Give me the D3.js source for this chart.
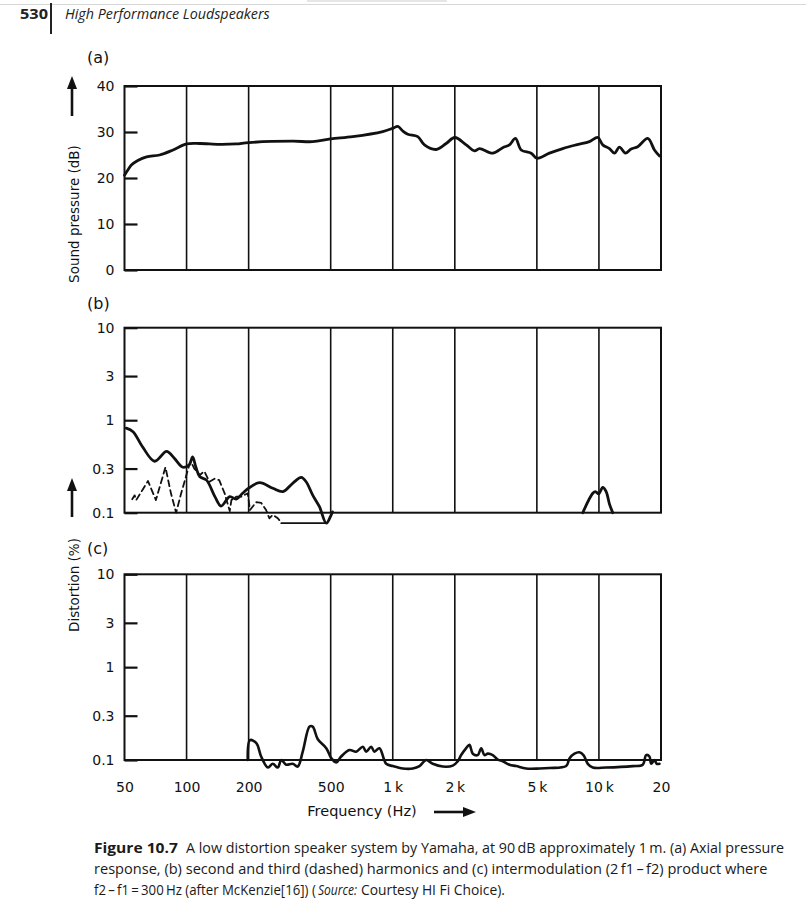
<!DOCTYPE html>
<html><head><meta charset="utf-8">
<script src="https://cdn.jsdelivr.net/npm/d3@7"></script>
<style>
html,body{margin:0;padding:0;background:#fff;}
svg{display:block;}
</style></head>
<body>
<svg id="chart" width="806" height="916"></svg>
<script>
// ---------- data ----------
const freqTicks = [50, 100, 200, 500, 1000, 2000, 5000, 10000, 20000];
const freqLabels = ["50", "100", "200", "500", "1\u2009k", "2\u2009k", "5\u2009k", "10\u2009k", "20"];
const gridFreqs = [100, 200, 500, 1000, 2000, 5000, 10000];
const dbTicks = [0, 10, 20, 30, 40];
const distTicks = [0.1, 0.3, 1, 3, 10];
const distLabels = ["0.1", "0.3", "1", "3", "10"];

// (a) axial pressure response, [Hz, dB]
const pressure = [[50,20.6],[52,21.8],[54,22.8],[58,23.8],[64,24.6],[74,25.0],[86,26.1],[100,27.4],[116,27.5],[144,27.3],[174,27.4],[200,27.7],[327,28.0],[409,27.9],[500,28.5],[640,29.0],[894,30.1],[1000,30.8],[1058,31.2],[1120,30.2],[1183,29.5],[1322,29.0],[1425,27.2],[1623,26.2],[1816,27.5],[2000,28.8],[2271,27.2],[2491,25.9],[2634,26.4],[3055,25.4],[3415,26.6],[3682,27.2],[3937,28.6],[4196,26.1],[4692,25.4],[5000,24.3],[5755,25.4],[6678,26.4],[7755,27.2],[8996,27.9],[9871,28.8],[10436,27.2],[11248,26.4],[11893,25.4],[12576,26.7],[13445,25.4],[14335,26.3],[15427,26.8],[17249,28.6],[18590,26.1],[19650,24.8]];

// (b) second harmonic (solid), [Hz, %]
const harm2Low = [[51,0.82],[55,0.75],[61,0.52],[70,0.36],[80,0.46],[87,0.39],[96,0.31],[103,0.33],[107,0.40],[111,0.31],[116,0.245],[125,0.225],[137,0.15],[147,0.118],[162,0.149],[174,0.14],[187,0.162],[200,0.184],[226,0.211],[262,0.184],[293,0.169],[327,0.208],[360,0.241],[380,0.216],[409,0.155],[441,0.116],[476,0.077],[503,0.095],[510,0.102]];
const harm2High = [[8350,0.1],[9335,0.162],[9620,0.169],[9980,0.16],[10436,0.188],[10840,0.169],[11250,0.124],[11670,0.1]];
// (b) third harmonic (dashed)
const harm3 = [[54.5,0.14],[56,0.154],[57,0.137],[61,0.175],[65,0.22],[71,0.137],[79,0.31],[84,0.162],[89,0.1],[94,0.16],[102.5,0.314],[105,0.356],[109,0.30],[116,0.256],[122,0.28],[129,0.216],[137,0.234],[144,0.225],[153,0.162],[162,0.104],[165,0.137],[174,0.149],[184,0.149],[198,0.162],[203,0.107],[218,0.13],[230,0.128],[243,0.107],[252,0.087],[262,0.095],[277,0.087],[288,0.078]];
const harm3Floor = [[288,0.077],[476,0.077]];

// (c) intermodulation product
const imd = [[198,0.1],[203,0.164],[218,0.152],[230,0.109],[248,0.083],[262,0.091],[277,0.083],[288,0.1],[304,0.089],[327,0.091],[346,0.085],[366,0.123],[395,0.229],[409,0.229],[433,0.167],[476,0.134],[503,0.105],[532,0.094],[562,0.109],[617,0.128],[665,0.123],[716,0.139],[743,0.123],[786,0.139],[815,0.123],[862,0.134],[929,0.091],[1000,0.086],[1119,0.081],[1251,0.081],[1348,0.086],[1452,0.1],[1564,0.091],[1749,0.085],[1955,0.087],[2067,0.097],[2147,0.113],[2271,0.134],[2355,0.146],[2444,0.117],[2584,0.113],[2685,0.134],[2785,0.113],[2890,0.117],[3055,0.113],[3232,0.101],[3415,0.097],[3682,0.089],[3968,0.086],[4437,0.081],[5147,0.081],[5755,0.082],[6936,0.086],[7195,0.104],[7609,0.117],[8045,0.121],[8414,0.113],[8828,0.091],[9335,0.083],[10840,0.083],[14593,0.086],[16316,0.089],[16940,0.113],[17580,0.109],[17915,0.091],[18590,0.1],[19070,0.091],[19650,0.091]];

// ---------- drawing ----------
const svg = d3.select("#chart");
const FONT = "'DejaVu Sans', 'Liberation Sans', Arial, sans-serif";
const CAP = "'Open Sans', 'Liberation Sans', sans-serif";
const INK = "#111";

// text squeezed horizontally to a given width via a transform (keeps glyph height)
function fitText(xx, yy, len, str, attrs) {
  const t = svg.append("text").attr("x", 0).attr("y", 0).text(str);
  Object.entries(attrs).forEach(([k, v]) => t.attr(k, v));
  const nat = t.node().getComputedTextLength() || len;
  t.attr("transform", `translate(${xx},${yy}) scale(${len / nat},1)`);
  return t;
}

svg.append("line").attr("x1",0).attr("x2",806).attr("y1",4.5).attr("y2",4.5)
  .attr("stroke","#d8d8d8").attr("stroke-width",1);
svg.append("rect").attr("x",307).attr("y",0).attr("width",140).attr("height",2).attr("fill","#e6e6e6");

fitText(20, 19, 28, "530", {"font-family": CAP, "font-weight": "bold", "font-size": 14, "fill": "#222"});
svg.append("line").attr("x1",51).attr("x2",51).attr("y1",3).attr("y2",34).attr("stroke","#222").attr("stroke-width",2);
fitText(65, 19, 205, "High Performance Loudspeakers", {"font-family": CAP, "font-style": "italic", "font-size": 14, "fill": "#222"});

const x = d3.scaleLog().domain([50, 20000]).range([124.5, 661]);
const yA = d3.scaleLinear().domain([0, 40]).range([270, 86]);
const yB = d3.scaleLog().domain([0.1, 10]).range([512.7, 327.7]);
const yC = d3.scaleLog().domain([0.1, 10]).range([760, 574.3]);

function panel(y, ticks, labels) {
  const g = svg.append("g");
  const [y0, y1] = [y.range()[0], y.range()[1]];
  g.selectAll("line.grid").data(gridFreqs).join("line")
    .attr("x1", d => x(d)).attr("x2", d => x(d))
    .attr("y1", y1).attr("y2", y0)
    .attr("stroke", INK).attr("stroke-width", 1.6);
  g.append("rect").attr("x", x(50)).attr("y", y1)
    .attr("width", x(20000) - x(50)).attr("height", y0 - y1)
    .attr("fill", "none").attr("stroke", INK).attr("stroke-width", 2);
  const ax = d3.axisLeft(y).tickValues(ticks).tickSize(-13).tickPadding(10)
    .tickFormat((d, i) => labels[i]);
  const ga = g.append("g").attr("transform", `translate(${x(50)},0)`).call(ax);
  ga.select(".domain").remove();
  ga.selectAll(".tick line").attr("stroke", INK).attr("stroke-width", 2.2);
  ga.selectAll("text").attr("font-family", FONT).attr("font-size", 14).attr("fill", INK);
  return g;
}

panel(yA, dbTicks, dbTicks.map(String));
panel(yB, distTicks, distLabels);
panel(yC, distTicks, distLabels);

const xa = d3.axisBottom(x).tickValues(freqTicks).tickSize(0).tickPadding(22)
  .tickFormat((d, i) => freqLabels[i]);
const gx = svg.append("g").attr("transform", `translate(0,${yC.range()[0]})`).call(xa);
gx.select(".domain").remove();
gx.selectAll("text").attr("font-family", FONT).attr("font-size", 14).attr("fill", INK);

function drawLine(data, y, opts = {}) {
  const line = d3.line().x(d => x(d[0])).y(d => y(d[1]))
    .curve(opts.linear ? d3.curveLinear : d3.curveCatmullRom.alpha(0.5));
  svg.append("path").datum(data).attr("d", line)
    .attr("fill", "none").attr("stroke", INK)
    .attr("stroke-width", opts.width || 2.8)
    .attr("stroke-linejoin", "round").attr("stroke-linecap", "round")
    .attr("stroke-dasharray", opts.dash || null);
}
drawLine(pressure, yA);
drawLine(harm3, yB, { dash: "6,4", width: 1.8, linear: true });
drawLine(harm3Floor, yB, { width: 1.8, linear: true });
drawLine(harm2Low, yB);
drawLine(harm2High, yB);
drawLine(imd, yC, { width: 2.6 });

[["(a)", 63], ["(b)", 309], ["(c)", 554]].forEach(([t, yy]) => {
  svg.append("text").attr("x", 87).attr("y", yy).attr("font-family", FONT)
    .attr("font-size", 16).attr("fill", INK).text(t);
});

function vTitle(text, cy) {
  svg.append("text").attr("transform", `translate(79,${cy}) rotate(-90)`)
    .attr("text-anchor", "middle").attr("font-family", FONT).attr("font-size", 13.5)
    .attr("fill", INK).text(text);
}
vTitle("Sound pressure (dB)", 214);
vTitle("Distortion (%)", 585);

function upArrow(cx, tip, tail) {
  svg.append("line").attr("x1", cx).attr("x2", cx).attr("y1", tail).attr("y2", tip + 10)
    .attr("stroke", INK).attr("stroke-width", 2.6);
  svg.append("path").attr("d", d3.line()([[cx, tip], [cx - 5, tip + 13], [cx + 5, tip + 13]]) + "Z")
    .attr("fill", INK);
}
upArrow(72, 76, 116);
upArrow(72, 478, 517);

svg.append("text").attr("x", 362).attr("y", 816).attr("text-anchor", "middle")
  .attr("font-family", FONT).attr("font-size", 14.5).attr("fill", INK).text("Frequency (Hz)");
svg.append("line").attr("x1", 434).attr("x2", 465).attr("y1", 812).attr("y2", 812)
  .attr("stroke", INK).attr("stroke-width", 2.6);
svg.append("path").attr("d", d3.line()([[476, 812], [463, 807], [463, 817]]) + "Z").attr("fill", INK);

const capRuns = [
  { x: 94,  y: 853, len: 84,  w: "bold",   s: "normal", t: "Figure 10.7" },
  { x: 186, y: 853, len: 599, w: "normal", s: "normal", t: "A low distortion speaker system by Yamaha, at 90\u2009dB approximately 1\u2009m. (a) Axial pressure" },
  { x: 94,  y: 874, len: 674, w: "normal", s: "normal", t: "response, (b) second and third (dashed) harmonics and (c) intermodulation (2\u2009f1\u2009\u2013\u2009f2) product where" },
  { x: 94,  y: 895, len: 222, w: "normal", s: "normal", t: "f2\u2009\u2013\u2009f1\u2009=\u2009300\u2009Hz (after McKenzie[16]) (" },
  { x: 318, y: 895, len: 39,  w: "normal", s: "italic", t: "Source:" },
  { x: 361, y: 895, len: 144, w: "normal", s: "normal", t: "Courtesy HI Fi Choice)." }
];
capRuns.forEach(r => {
  fitText(r.x, r.y, r.len, r.t, {"font-family": CAP, "font-size": 14.5, "font-weight": r.w,
    "font-style": r.s, "fill": "#1a1a1a"});
});
</script>
</body></html>
